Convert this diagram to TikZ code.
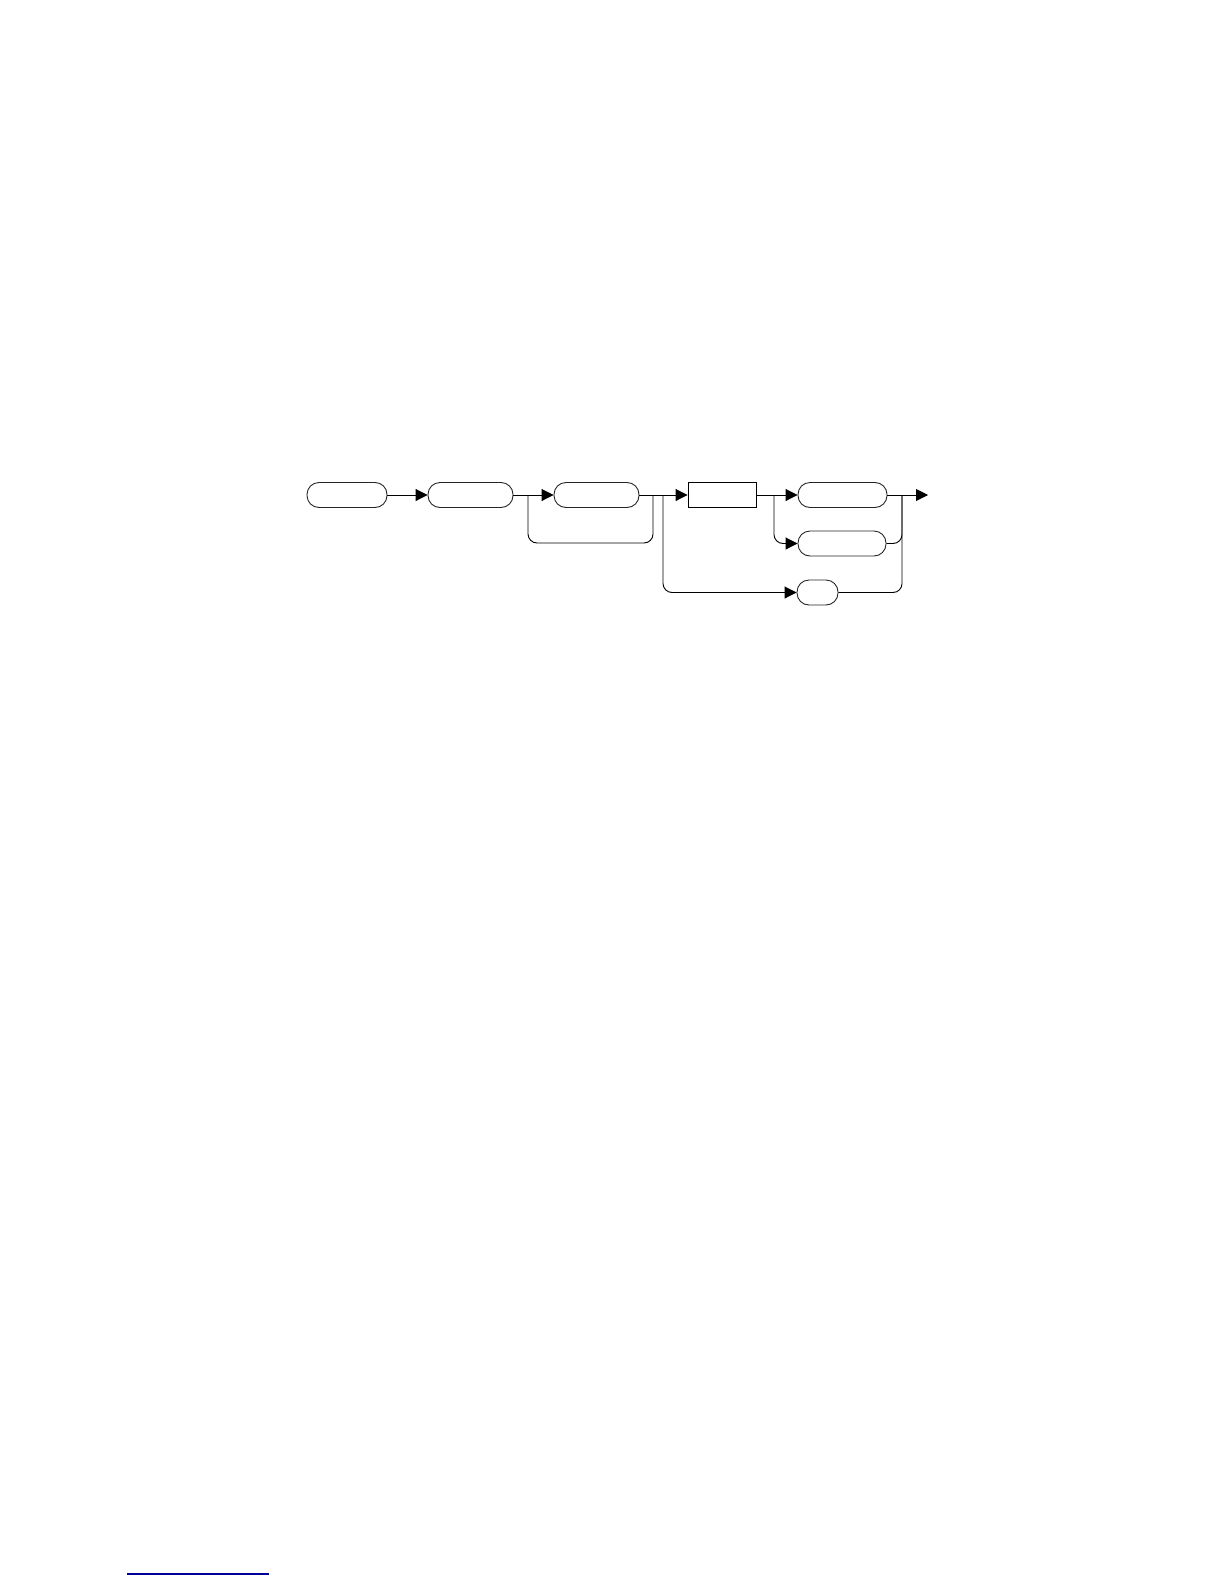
\documentclass[tikz,border=0pt]{standalone}
\usetikzlibrary{arrows.meta}
\begin{document}
\begin{tikzpicture}[x=1pt,y=-1pt,
  term/.style={draw=black!85,line width=0.9pt,rounded corners=12pt,minimum height=25pt,inner sep=0pt},
  nonterm/.style={draw=black,line width=0.9pt,minimum height=25pt,inner sep=0pt},
  conn/.style={draw=black,line width=0.9pt},
  arr/.style={conn,-{Triangle[length=12pt,width=12pt]}},
  rc/.style={rounded corners=9pt}]
\useasboundingbox (0,0) rectangle (1224,1584);
\node[term,minimum width=80pt] (A) at (347,495) {};
\node[term,minimum width=85pt] (B) at (470.5,495) {};
\node[term,minimum width=85pt] (C) at (596.5,495) {};
\node[nonterm,minimum width=68pt] (R) at (722,495) {};
\node[term,minimum width=89pt] (D) at (842.5,495) {};
\node[term,minimum width=88pt] (E) at (842,543.5) {};
\node[term,minimum width=41pt] (F) at (817.5,592.5) {};
\coordinate (s1) at (528,495);
\coordinate (j1) at (653,495);
\coordinate (s2) at (663,495);
\coordinate (s3) at (774,495);
\coordinate (j2) at (902,495);
\coordinate (out) at (928,495);
\coordinate (lb) at (653,543);
\draw[arr] (A.east) -- (B.west);
\draw[arr] (B.east) -- (C.west);
\draw[arr] (C.east) -- (R.west);
\draw[conn,rc] (s1) |- (lb) -- (j1);
\draw[arr,rc] (s2) |- (F.west);
\draw[arr] (R.east) -- (D.west);
\draw[arr,rc] (s3) |- (E.west);
\draw[arr] (D.east) -- (out);
\draw[conn,rc] (E.east) -| (j2);
\draw[conn,rc] (F.east) -| (j2);
\coordinate (u1) at (127,1574);
\coordinate (u2) at (269,1574);
\draw[blue!60!black,line width=1.2pt] (u1) -- (u2);
\end{tikzpicture}
\end{document}
